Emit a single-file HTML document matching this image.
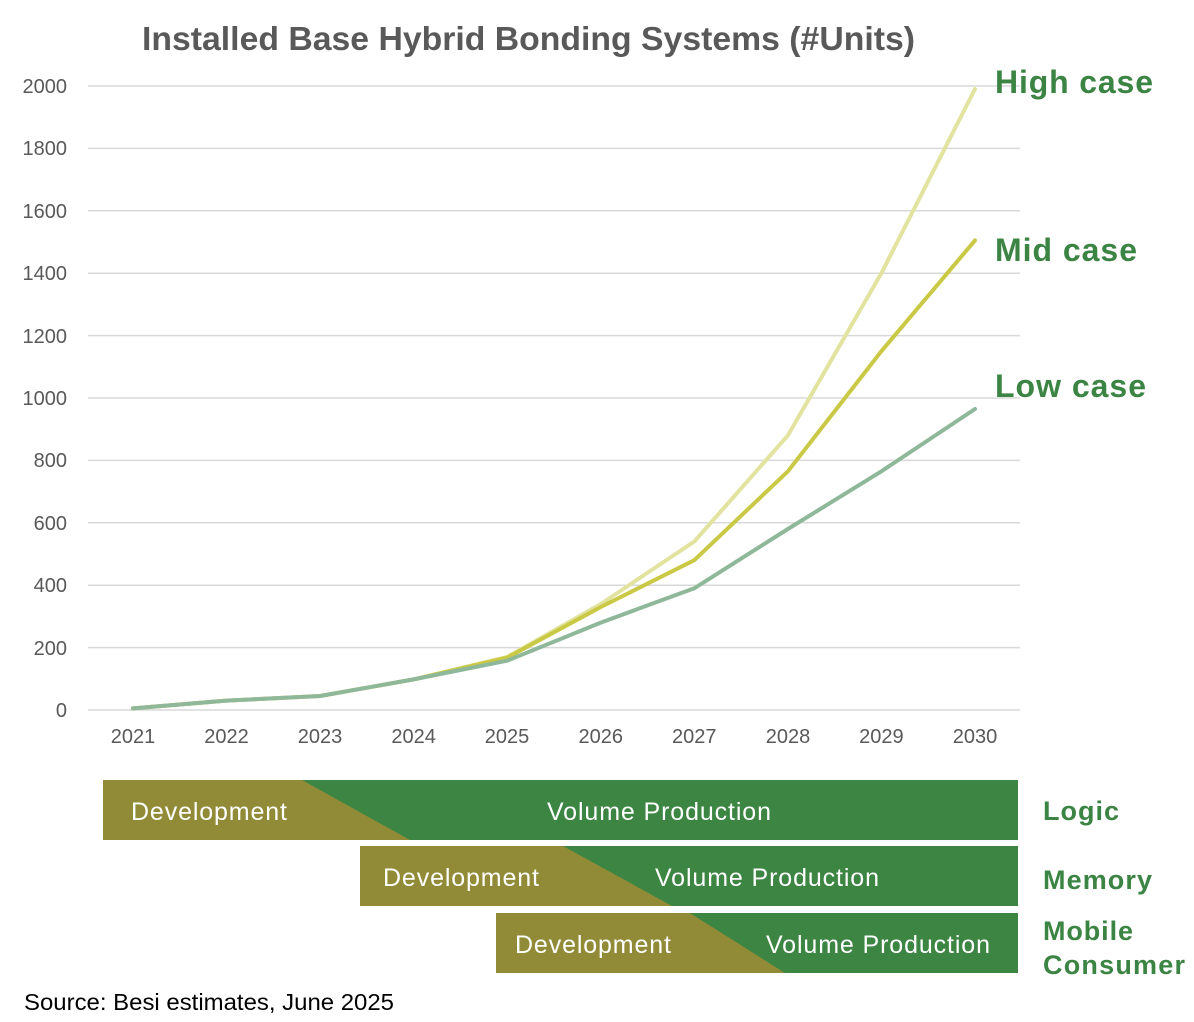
<!DOCTYPE html>
<html><head><meta charset="utf-8"><style>
html,body{margin:0;padding:0;background:#fff;}
svg{display:block;font-family:"Liberation Sans",Arial,sans-serif;}
</style></head><body>
<svg width="1194" height="1022" viewBox="0 0 1194 1022">
<text x="142" y="50" font-size="33" font-weight="bold" fill="#595959" textLength="773" lengthAdjust="spacingAndGlyphs">Installed Base Hybrid Bonding Systems (#Units)</text>
<g stroke="#d9d9d9" stroke-width="1.5">
<line x1="88" x2="1020" y1="86" y2="86"/><line x1="88" x2="1020" y1="148.4" y2="148.4"/>
<line x1="88" x2="1020" y1="210.8" y2="210.8"/><line x1="88" x2="1020" y1="273.2" y2="273.2"/>
<line x1="88" x2="1020" y1="335.6" y2="335.6"/><line x1="88" x2="1020" y1="398" y2="398"/>
<line x1="88" x2="1020" y1="460.4" y2="460.4"/><line x1="88" x2="1020" y1="522.8" y2="522.8"/>
<line x1="88" x2="1020" y1="585.2" y2="585.2"/><line x1="88" x2="1020" y1="647.6" y2="647.6"/>
<line x1="88" x2="1020" y1="710" y2="710"/>
</g>
<g font-size="20" fill="#595959" text-anchor="end">
<text x="67" y="93">2000</text><text x="67" y="155">1800</text><text x="67" y="218">1600</text>
<text x="67" y="280">1400</text><text x="67" y="343">1200</text><text x="67" y="405">1000</text>
<text x="67" y="467">800</text><text x="67" y="530">600</text><text x="67" y="592">400</text>
<text x="67" y="655">200</text><text x="67" y="717">0</text>
</g>
<g font-size="20" fill="#595959" text-anchor="middle">
<text x="133" y="743">2021</text><text x="226.5" y="743">2022</text><text x="320" y="743">2023</text>
<text x="413.6" y="743">2024</text><text x="507" y="743">2025</text><text x="600.8" y="743">2026</text>
<text x="694.3" y="743">2027</text><text x="788" y="743">2028</text><text x="881.4" y="743">2029</text>
<text x="975" y="743">2030</text>
</g>
<g fill="none" stroke-width="4" stroke-linejoin="round" stroke-linecap="round">
<polyline stroke="#e1e39e" points="133,708.4 226.5,700.6 320.1,696 413.6,679.4 507.2,657 600.8,604 694.3,541.5 787.9,435.4 881.4,273.2 975,89"/>
<polyline stroke="#c9c945" points="133,708.4 226.5,700.6 320.1,696 413.6,679.4 507.2,657.6 600.8,607 694.3,560.2 787.9,471.3 881.4,351.2 975,240.4"/>
<polyline stroke="#8fb89b" points="133,708.4 226.5,700.6 320.1,696 413.6,679.4 507.2,660.7 600.8,622.6 694.3,588.3 787.9,529 881.4,471.3 975,409"/>
</g>
<g font-size="32" font-weight="bold" fill="#3b8443" lengthAdjust="spacingAndGlyphs">
<text x="995" y="93" textLength="158">High case</text>
<text x="995" y="261" textLength="142">Mid case</text>
<text x="995" y="397" textLength="151">Low case</text>
</g>
<rect x="103" y="780" width="915" height="60" fill="#3c8542"/>
<polygon points="103,780 302,780 410,840 103,840" fill="#918b38"/>
<rect x="360" y="846" width="658" height="60" fill="#3c8542"/>
<polygon points="360,846 563,846 672,906 360,906" fill="#918b38"/>
<rect x="496" y="913" width="522" height="60" fill="#3c8542"/>
<polygon points="496,913 690,913 785,973 496,973" fill="#918b38"/>
<g font-size="25" fill="#fff" lengthAdjust="spacingAndGlyphs">
<text x="131" y="820" textLength="156">Development</text><text x="547" y="820" textLength="224">Volume Production</text>
<text x="383" y="886" textLength="156">Development</text><text x="655" y="886" textLength="224">Volume Production</text>
<text x="515" y="953" textLength="156">Development</text><text x="766" y="953" textLength="224">Volume Production</text>
</g>
<g font-size="27" font-weight="bold" fill="#3b8443" lengthAdjust="spacingAndGlyphs">
<text x="1043" y="820" textLength="76">Logic</text>
<text x="1043" y="889" textLength="109">Memory</text>
<text x="1043" y="940" textLength="90">Mobile</text>
<text x="1043" y="974" textLength="142">Consumer</text>
</g>
<text x="24" y="1010" font-size="23" fill="#000" textLength="370" lengthAdjust="spacingAndGlyphs">Source: Besi estimates, June 2025</text>
</svg>
</body></html>
